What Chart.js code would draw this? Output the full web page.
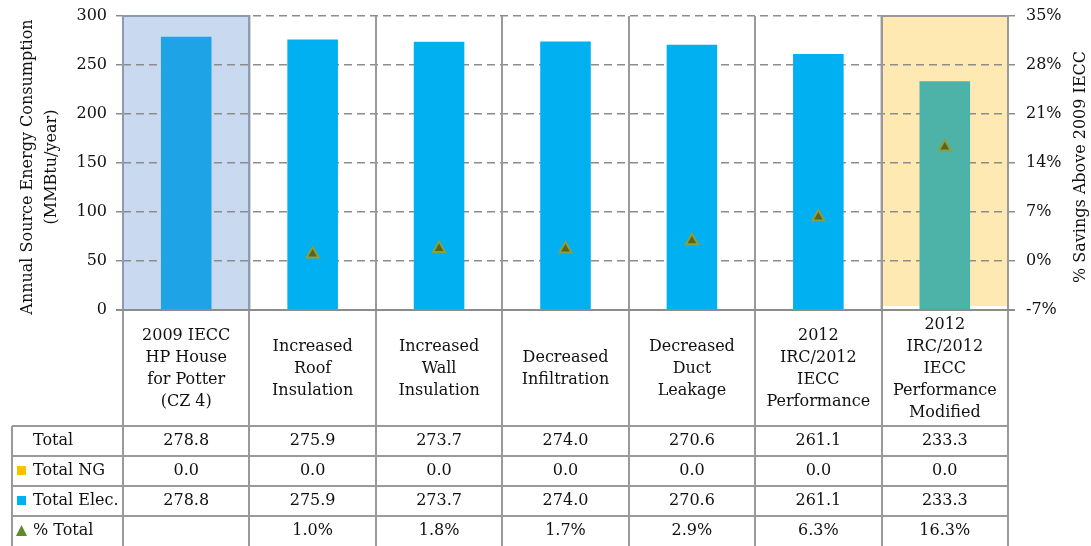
<!DOCTYPE html>
<html lang="en">
<head>
<meta charset="UTF-8">
<title>Annual Source Energy Consumption</title>
<script src="https://cdn.jsdelivr.net/npm/chart.js"></script>
<style>
  body { margin: 0; background: #fff; }
</style>
</head>
<body>
<canvas id="chart" width="1091" height="546"></canvas>
<script>
// Categories (multi-line labels) and values
const categories = [
  ['2009 IECC', 'HP House', 'for Potter', '(CZ 4)'],
  ['Increased', 'Roof', 'Insulation'],
  ['Increased', 'Wall', 'Insulation'],
  ['Decreased', 'Infiltration'],
  ['Decreased', 'Duct', 'Leakage'],
  ['2012', 'IRC/2012', 'IECC', 'Performance'],
  ['2012', 'IRC/2012', 'IECC', 'Performance', 'Modified']
];
const totalValues = [278.8, 275.9, 273.7, 274.0, 270.6, 261.1, 233.3];
const ngValues = [0.0, 0.0, 0.0, 0.0, 0.0, 0.0, 0.0];
const elecValues = [278.8, 275.9, 273.7, 274.0, 270.6, 261.1, 233.3];
const pctTotal = [null, 1.0, 1.8, 1.7, 2.9, 6.3, 16.3];
const leftTicks = { min: 0, max: 300, step: 50 };
const rightTicks = { min: -7, max: 35, step: 7 };

const FONT = "'DejaVu Serif', serif";
const GRID = '#9a9a9a';
const elecColors = ['#1ea3e6', '#00b0f0', '#00b0f0', '#00b0f0', '#00b0f0', '#00b0f0', '#4db3a9'];

Chart.defaults.font.family = FONT;
Chart.defaults.font.size = 16;
Chart.defaults.color = '#111';

// highlighted columns: first (baseline) and last (final package)
const highlights = [
  { index: 0, fill: '#c9daf0', stroke: '#8a9cb5', gap: 0 },
  { index: 6, fill: '#ffe9b3', stroke: '#999999', gap: 4 }
];

const LABEL_BAND = 116;
const ROW_H = 30;
const TABLE_LEFT = 12;

// fixed axis box sizes so the plot area lines up with the table
const fitY = width => s => {
  s.width = width;
  s.paddingTop = 16;
  s.paddingBottom = 0;
};

const tablePlugin = {
  id: 'tablePlugin',
  beforeDraw(chart) {
    const { ctx, chartArea: a } = chart;
    const w = (a.right - a.left) / categories.length;
    ctx.save();
    highlights.forEach(h => {
      const x0 = a.left + h.index * w;
      ctx.fillStyle = h.fill;
      ctx.fillRect(x0, a.top, w, a.bottom - a.top - h.gap);
    });
    ctx.restore();
  },
  afterDraw(chart) {
    const { ctx, chartArea: a, scales: { x } } = chart;
    const n = categories.length;
    const w = (a.right - a.left) / n;
    const tableTop = a.bottom + LABEL_BAND;
    const bottom = chart.height;
    ctx.save();

    // column borders
    ctx.strokeStyle = GRID;
    ctx.lineWidth = 2;
    for (let i = 0; i <= n; i++) {
      const xx = Math.round(a.left + i * w);
      ctx.beginPath();
      ctx.moveTo(xx, a.top);
      ctx.lineTo(xx, bottom);
      ctx.stroke();
    }
    // table row lines
    for (let r = 0; r < 4; r++) {
      const yy = tableTop + r * ROW_H;
      ctx.beginPath();
      ctx.moveTo(TABLE_LEFT, yy);
      ctx.lineTo(a.right, yy);
      ctx.stroke();
    }
    ctx.beginPath();
    ctx.moveTo(TABLE_LEFT, tableTop);
    ctx.lineTo(TABLE_LEFT, bottom);
    ctx.stroke();

    // highlight outlines
    highlights.forEach(h => {
      ctx.strokeStyle = h.stroke;
      ctx.strokeRect(a.left + h.index * w, a.top, w, a.bottom - a.top);
    });

    // baseline with ticks on both sides
    ctx.strokeStyle = '#8c8c8c';
    ctx.beginPath();
    ctx.moveTo(a.left - 7, a.bottom);
    ctx.lineTo(a.right + 7, a.bottom);
    ctx.stroke();

    // category labels
    ctx.fillStyle = '#111';
    ctx.font = '16px ' + FONT;
    ctx.textAlign = 'center';
    ctx.textBaseline = 'middle';
    const lh = 22;
    categories.forEach((lines, i) => {
      const cx = x.getPixelForValue(i);
      const cy = a.bottom + LABEL_BAND / 2;
      lines.forEach((t, k) => {
        ctx.fillText(t, cx, cy + (k - (lines.length - 1) / 2) * lh + 1);
      });
    });

    // data table
    const rows = [
      { name: 'Total', vals: totalValues.map(v => v.toFixed(1)) },
      { name: 'Total NG', key: 'square', color: '#ffc000', vals: ngValues.map(v => v.toFixed(1)) },
      { name: 'Total Elec.', key: 'square', color: '#00b0f0', vals: elecValues.map(v => v.toFixed(1)) },
      { name: '% Total', key: 'triangle', color: '#5e8a2c', vals: pctTotal.map(v => v == null ? '' : v.toFixed(1) + '%') }
    ];
    rows.forEach((row, r) => {
      const cy = tableTop + r * ROW_H + ROW_H / 2;
      ctx.textAlign = 'left';
      ctx.fillStyle = '#111';
      ctx.fillText(row.name, 33, cy);
      if (row.key === 'square') {
        ctx.fillStyle = row.color;
        ctx.fillRect(17, cy - 5, 9, 9);
      } else if (row.key === 'triangle') {
        ctx.fillStyle = row.color;
        ctx.beginPath();
        ctx.moveTo(21.5, cy - 6);
        ctx.lineTo(27, cy + 5);
        ctx.lineTo(16, cy + 5);
        ctx.closePath();
        ctx.fill();
      }
      ctx.textAlign = 'center';
      ctx.fillStyle = '#111';
      row.vals.forEach((t, i) => ctx.fillText(t, x.getPixelForValue(i), cy));
    });

    // axis titles
    const midY = (a.top + a.bottom) / 2 + 4;
    const rotText = (t, cx) => {
      ctx.save();
      ctx.translate(cx, midY);
      ctx.rotate(-Math.PI / 2);
      ctx.textAlign = 'center';
      ctx.fillText(t, 0, 0);
      ctx.restore();
    };
    rotText('Annual Source Energy Consumption', 28);
    rotText('(MMBtu/year)', 52);
    rotText('% Savings Above 2009 IECC', 1081);
    ctx.restore();
  }
};

new Chart(document.getElementById('chart'), {
  data: {
    labels: categories,
    datasets: [
      {
        type: 'line',
        label: '% Total',
        data: pctTotal,
        yAxisID: 'y1',
        showLine: false,
        pointStyle: 'triangle',
        pointRadius: 7,
        pointBackgroundColor: '#56661f',
        pointBorderColor: '#8e9e3e',
        pointBorderWidth: 2,
        order: 0
      },
      {
        type: 'bar',
        label: 'Total NG',
        data: ngValues,
        backgroundColor: '#ffc000',
        stack: 's',
        barPercentage: 0.4,
        categoryPercentage: 1,
        order: 1
      },
      {
        type: 'bar',
        label: 'Total Elec.',
        data: elecValues,
        backgroundColor: elecColors,
        stack: 's',
        barPercentage: 0.4,
        categoryPercentage: 1,
        order: 1
      }
    ]
  },
  options: {
    responsive: false,
    animation: false,
    layout: { padding: 0 },
    plugins: {
      legend: { display: false },
      tooltip: { enabled: false }
    },
    scales: {
      x: {
        stacked: true,
        grid: { display: false },
        border: { display: false },
        ticks: { display: false },
        afterFit: s => { s.height = 236; }
      },
      y: {
        stacked: true,
        min: leftTicks.min,
        max: leftTicks.max,
        ticks: { stepSize: leftTicks.step, padding: 9, color: '#111' },
        grid: { color: '#8c8c8c', lineWidth: 1.5, tickLength: 7, tickColor: '#8c8c8c' },
        border: { display: false, dash: [8, 5] },
        afterFit: fitY(123)
      },
      y1: {
        position: 'right',
        min: rightTicks.min,
        max: rightTicks.max,
        ticks: {
          stepSize: rightTicks.step,
          padding: 11,
          color: '#111',
          callback: v => v + '%'
        },
        grid: { drawOnChartArea: false, tickLength: 7, tickColor: '#8c8c8c', lineWidth: 1.5 },
        border: { display: false },
        afterFit: fitY(83)
      }
    }
  },
  plugins: [tablePlugin]
});
</script>
</body>
</html>
